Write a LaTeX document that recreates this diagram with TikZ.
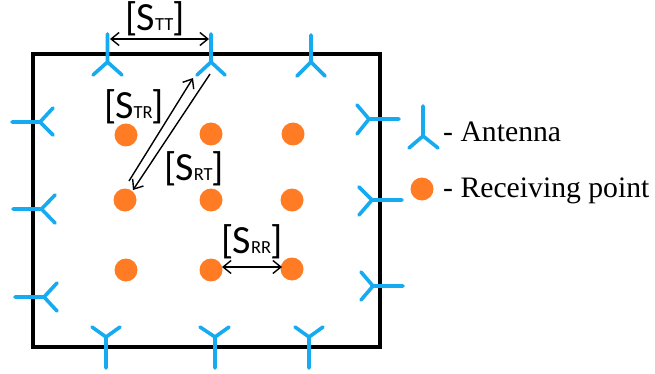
\documentclass[tikz,border=0pt]{standalone}
\usepackage{fontspec}
\setmainfont{Liberation Serif}
\newfontfamily\lblfont{Carlito}
\usetikzlibrary{arrows.meta}
\definecolor{antblue}{RGB}{22,170,240}
\definecolor{dotorange}{RGB}{255,124,36}
\tikzset{
  antline/.style={draw=antblue,line width=3.6pt,line cap=round,line join=round},
  rxdot/.style={circle,fill=dotorange,draw=none,minimum size=23pt,inner sep=0pt},
  room/.style={draw=black,line width=3.4pt,line join=miter},
  dim/.style={draw=black,line width=1.4pt,{Straight Barb[length=8pt,width=13pt,line width=1.4pt]}-{Straight Barb[length=8pt,width=13pt,line width=1.4pt]}},
  dimone/.style={draw=black,line width=1.4pt,-{Straight Barb[length=8pt,width=13pt,line width=1.4pt]}},
  slabel/.style={inner sep=0pt,font=\lblfont\fontsize{40}{40}\selectfont},
  legendtext/.style={inner sep=0pt,anchor=base west,font=\fontsize{29.7}{31}\selectfont}
}
\newcommand{\antenna}[4]{% junction, stem end, arm 1, arm 2
  \draw[antline] (#2) -- (#1) (#3) -- (#1) -- (#4);}
\newcommand{\smat}[1]{[\kern-1pt S{\fontsize{18.5}{18.5}\selectfont #1}\kern-1pt]}
\begin{document}
\begin{tikzpicture}[x=1pt,y=-1pt]
\useasboundingbox (0,0) rectangle (655,374);
\draw[room] (33,54) rectangle (380,347);
% antennas
\antenna{107.5,62}{107.5,34}{93,75}{122,75}
\antenna{211,62}{211,34}{197,75}{225,75}
\antenna{311,62}{311,35}{297,76}{325,76}
\antenna{40,122}{12,122}{53,108}{53,135}
\antenna{41.5,209}{13,209}{55,195}{55,223}
\antenna{44,297}{15,297}{57,283}{57,311}
\antenna{369,119}{399,119}{357,105}{357,134}
\antenna{372,200}{402,200}{359,187}{359,215}
\antenna{373,286}{403,286}{361,272}{361,300}
\antenna{106,337}{106,368}{92,327}{120,327}
\antenna{215,337}{215,368}{200,327}{229,327}
\antenna{309,337}{309,368}{295,327}{323,327}
\antenna{423,136}{423,106}{409,148}{438,148}
% receiving points
\node[rxdot] (r11) at (126,135) {};
\node[rxdot] (r12) at (211,134) {};
\node[rxdot] (r13) at (293,134) {};
\node[rxdot] (r21) at (125,200) {};
\node[rxdot] (r22) at (211,200) {};
\node[rxdot] (r23) at (292,200) {};
\node[rxdot] (r31) at (126,270) {};
\node[rxdot] (r32) at (211,270) {};
\node[rxdot] (r33) at (292,269) {};
\node[rxdot] (legdot) at (422,189) {};
% connector ends
\coordinate (ttl) at (110,39);
\coordinate (ttr) at (209,39);
\coordinate (trs) at (129,181);
\coordinate (tre) at (193,78);
\coordinate (rts) at (210,74);
\coordinate (rte) at (133,190);
\coordinate (rrl) at (222,267);
\coordinate (rrr) at (282,267);
\draw[dim] (ttl) -- (ttr);
\draw[dimone] (trs) -- (tre);
\draw[dimone] (rts) -- (rte);
\draw[dim] (rrl) -- (rrr);
% labels
\node[slabel] (stt) at (155,19) {\smat{TT}};
\node[slabel] (str) at (134,107) {\smat{TR}};
\node[slabel] (srt) at (194,169) {\smat{RT}};
\node[slabel] (srr) at (252,242) {\smat{RR}};
\node[legendtext] (lega) at (443,142) {- Antenna};
\node[legendtext] (legb) at (443,197) {- Receiving point};
\end{tikzpicture}
\end{document}
